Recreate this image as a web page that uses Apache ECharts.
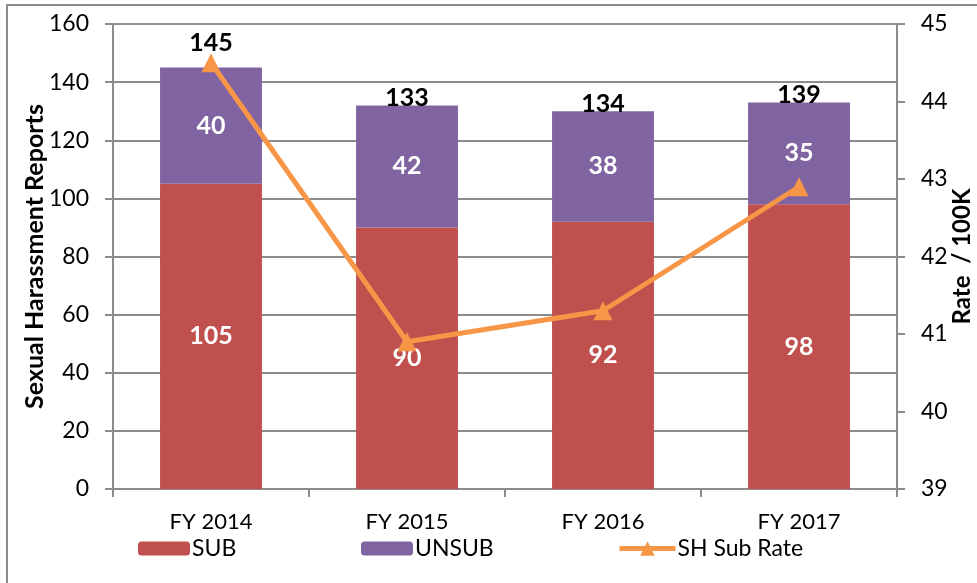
<!DOCTYPE html>
<html>
<head>
<meta charset="utf-8">
<script src="https://cdn.jsdelivr.net/npm/echarts@6/dist/echarts.min.js"></script>
<style>
  html, body { margin: 0; padding: 0; background: #fff; }
  #chart { width: 977px; height: 583px; }
</style>
</head>
<body>
<div id="chart"></div>
<script>
// data
var categories = ['FY 2014', 'FY 2015', 'FY 2016', 'FY 2017']
var subValues = [105, 90, 92, 98]
var unsubValues = [40, 42, 38, 35]
var totalLabels = [145, 133, 134, 139]
var subRate = [44.5, 40.9, 41.3, 42.9]
var leftTicks = { min: 0, max: 160, interval: 20 }
var rightTicks = { min: 39, max: 45, interval: 1 }

var font = 'Lato, "Open Sans", sans-serif'
var gray = '#8c8c8c'

var chart = echarts.init(document.getElementById('chart'))

function legendAt(name, left) {
  return {
    bottom: 18,
    left: left,
    itemWidth: 52,
    itemHeight: 14,
    textStyle: { fontSize: 23, color: '#000', fontFamily: font, padding: [0, 0, 0, -3] },
    data: [name]
  }
}

chart.setOption({
  animation: false,
  textStyle: { fontFamily: font },
  grid: { left: 113, right: 80, top: 24, bottom: 94, outerBoundsMode: 'none', containLabel: false },
  graphic: [
    {
      type: 'rect',
      shape: { x: 7, y: 5, width: 990, height: 590 },
      style: { fill: 'none', stroke: gray, lineWidth: 2 },
      silent: true
    }
  ],
  legend: [
    legendAt('SUB', 133),
    legendAt('UNSUB', 356),
    Object.assign(legendAt('SH Sub Rate', 612), {
      itemWidth: 56,
      itemHeight: 18,
      lineStyle: { width: 5 }
    })
  ],
  xAxis: {
    type: 'category',
    data: categories,
    axisLine: { lineStyle: { color: gray, width: 2 } },
    axisTick: { show: true, length: 8, lineStyle: { color: gray, width: 2 } },
    axisLabel: { fontSize: 22, color: '#000', margin: 22 }
  },
  yAxis: [
    {
      type: 'value',
      min: leftTicks.min,
      max: leftTicks.max,
      interval: leftTicks.interval,
      name: 'Sexual Harassment Reports',
      nameLocation: 'middle',
      nameGap: 66,
      nameMoveOverlap: false,
      nameTextStyle: { fontSize: 25, fontWeight: 'bold', color: '#000' },
      axisLine: { show: true, lineStyle: { color: gray, width: 2 } },
      axisTick: { show: true, length: 8, lineStyle: { color: gray, width: 2 } },
      axisLabel: { fontSize: 23, color: '#000', margin: 24 },
      splitLine: { lineStyle: { color: gray, width: 2 } }
    },
    {
      type: 'value',
      min: rightTicks.min,
      max: rightTicks.max,
      interval: rightTicks.interval,
      name: 'Rate  / 100K',
      nameLocation: 'middle',
      nameGap: 53,
      nameMoveOverlap: false,
      nameRotate: 90,
      nameTextStyle: { fontSize: 24, fontWeight: 'bold', color: '#000' },
      axisLine: { show: true, lineStyle: { color: gray, width: 2 } },
      axisTick: { show: true, length: 8, lineStyle: { color: gray, width: 2 } },
      axisLabel: { fontSize: 23, color: '#000', margin: 24 },
      splitLine: { show: false }
    }
  ],
  series: [
    {
      name: 'SUB',
      type: 'bar',
      stack: 'total',
      barWidth: '52%',
      itemStyle: { color: '#c0504d' },
      label: {
        show: true,
        position: 'inside',
        color: '#fff',
        fontSize: 25,
        fontWeight: 'bold'
      },
      data: subValues
    },
    {
      name: 'UNSUB',
      type: 'bar',
      stack: 'total',
      itemStyle: { color: '#8064a2' },
      label: {
        show: true,
        position: 'inside',
        color: '#fff',
        fontSize: 25,
        fontWeight: 'bold'
      },
      data: unsubValues
    },
    {
      // totals shown above each stack
      name: 'total',
      type: 'bar',
      stack: 'total',
      itemStyle: { color: 'transparent' },
      label: {
        show: true,
        position: 'top',
        distance: -5,
        color: '#000',
        fontSize: 25,
        fontWeight: 'bold',
        formatter: function (p) { return totalLabels[p.dataIndex] }
      },
      data: categories.map(function (c, i) {
        return i === 0 ? { value: 0, label: { offset: [0, -17] } } : 0
      })
    },
    {
      name: 'SH Sub Rate',
      type: 'line',
      yAxisIndex: 1,
      symbol: 'triangle',
      symbolSize: 19,
      lineStyle: { color: '#f79646', width: 5 },
      itemStyle: { color: '#f79646' },
      data: subRate
    }
  ]
})
</script>
</body>
</html>
